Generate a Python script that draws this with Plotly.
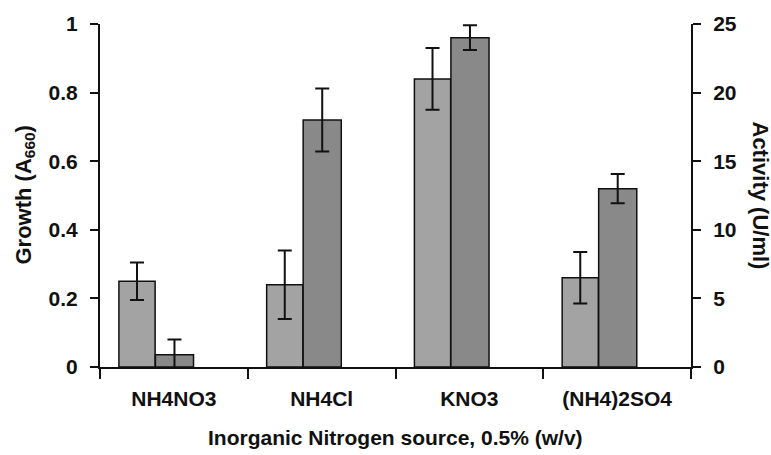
import plotly.graph_objects as go

# Nitrogen sources tested
sources = ["NH4NO3", "NH4Cl", "KNO3", "(NH4)2SO4"]

# Growth (absorbance at 660 nm) with standard deviations
growth = [0.25, 0.24, 0.84, 0.26]
growth_err = [0.055, 0.10, 0.09, 0.075]

# Enzyme activity (U/ml) with standard deviations
activity = [0.9, 18.0, 24.0, 13.0]
activity_err = [1.1, 2.3, 0.9, 1.07]

left_ticks = [0, 0.2, 0.4, 0.6, 0.8, 1]
left_labels = ["0", "0.2", "0.4", "0.6", "0.8", "1"]
right_ticks = [0, 5, 10, 15, 20, 25]

FONT = "Liberation Sans, Arial, sans-serif"
INK = "#111111"

fig = go.Figure()

fig.add_trace(go.Bar(
    x=sources, y=growth, name="Growth",
    width=0.245, offset=-0.372,
    marker=dict(color="#a3a3a3", line=dict(color=INK, width=1.5)),
    error_y=dict(type="data", array=growth_err, visible=True,
                 color=INK, thickness=2, width=7),
    yaxis="y",
))

fig.add_trace(go.Bar(
    x=sources, y=activity, name="Activity",
    width=0.258, offset=-0.125,
    marker=dict(color="#898989", line=dict(color=INK, width=1.5)),
    error_y=dict(type="data", array=activity_err, visible=True,
                 color=INK, thickness=2, width=7),
    yaxis="y2",
))

tick_font = dict(family=FONT, size=21, color=INK, weight="bold")

fig.update_layout(
    width=771, height=455,
    margin=dict(l=100, r=80, t=22, b=88),
    paper_bgcolor="white", plot_bgcolor="white",
    showlegend=False,
    barmode="overlay",
    xaxis=dict(
        type="category",
        showline=True, linecolor=INK, linewidth=2,
        ticks="outside", tickson="boundaries", ticklen=10, tickwidth=2,
        tickcolor=INK, tickfont=tick_font, ticklabelstandoff=12,
        showgrid=False, zeroline=False,
    ),
    yaxis=dict(
        range=[0, 1], tickvals=left_ticks, ticktext=left_labels,
        showline=True, linecolor=INK, linewidth=2,
        ticks="outside", ticklen=8, tickwidth=2, tickcolor=INK,
        tickfont=tick_font, ticklabelstandoff=8,
        showgrid=False, zeroline=False,
    ),
    yaxis2=dict(
        range=[0, 25], tickvals=right_ticks,
        overlaying="y", side="right", anchor="x",
        showline=True, linecolor=INK, linewidth=2,
        ticks="outside", ticklen=8, tickwidth=2, tickcolor=INK,
        tickfont=tick_font, ticklabelstandoff=8,
        showgrid=False, zeroline=False,
    ),
    # inward half of the crossing ticks on the activity axis
    yaxis3=dict(
        range=[0, 25], tickvals=right_ticks,
        overlaying="y", side="right", anchor="x",
        showline=False, showticklabels=False,
        ticks="inside", ticklen=8, tickwidth=2, tickcolor=INK,
        showgrid=False, zeroline=False,
    ),
)

title_font = dict(family=FONT, size=22, color=INK, weight="bold")

fig.add_annotation(
    text="Growth (A<sub>660</sub>)", xref="paper", yref="paper",
    x=0, y=0.5, xshift=-76, textangle=-90,
    xanchor="center", yanchor="middle", showarrow=False, font=title_font,
)
fig.add_annotation(
    text="Activity (U/ml)", xref="paper", yref="paper",
    x=1, y=0.5, xshift=69, textangle=90,
    xanchor="center", yanchor="middle", showarrow=False, font=title_font,
)
fig.add_annotation(
    text="Inorganic Nitrogen source, 0.5% (w/v)", xref="paper", yref="paper",
    x=0.5, y=0, yshift=-70,
    xanchor="center", yanchor="middle", showarrow=False,
    font=dict(family=FONT, size=21, color=INK, weight="bold"),
)

fig.write_html("out.html")
